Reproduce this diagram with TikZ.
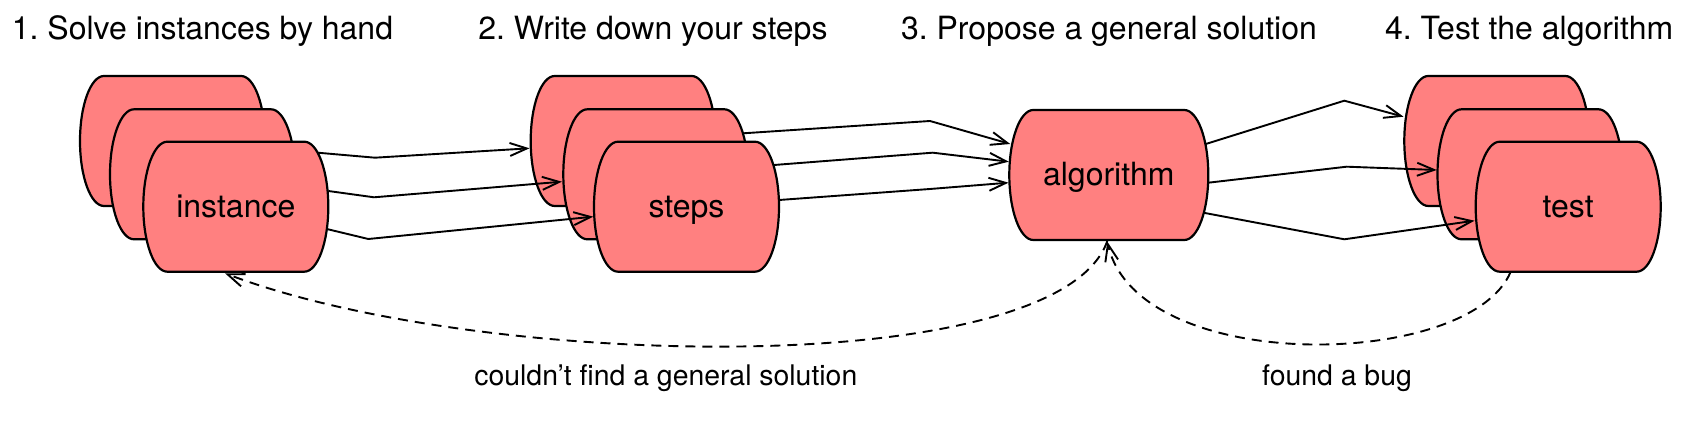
\documentclass[tikz,border=0pt]{standalone}
\usepackage{fontspec}
\setmainfont{TeX Gyre Heros}
\usetikzlibrary{arrows.meta,calc}
\definecolor{barrelfill}{RGB}{255,128,128}
\frenchspacing
\tikzset{
  bbox/.style={inner sep=0pt, outer sep=0pt, minimum height=65pt, minimum width=92.5pt, draw=none},
  bshape/.style={fill=barrelfill, draw=black, line width=1.1pt},
  btext/.style={font=\fontsize{16}{19}\selectfont, inner sep=0pt, anchor=base},
  title/.style={font=\fontsize{16}{19}\selectfont, anchor=base west, inner sep=0pt},
  conn/.style={line width=0.95pt, -{Straight Barb[length=8.5pt,width=6.5pt]}},
  backconn/.style={conn, dash pattern=on 5pt off 3.5pt},
  lbl/.style={font=\fontsize{14.2}{17}\selectfont, anchor=base west, inner sep=0pt},
}
\newcommand\barrelnode[4][92.5pt]{%
  \node[bbox, minimum width=#1] (#2) at (#3) {};
  \filldraw[bshape] ([xshift=12pt]#2.north west) -- ([xshift=-12pt]#2.north east)
     arc[start angle=90, end angle=-90, x radius=12pt, y radius=32.5pt]
     -- ([xshift=12pt]#2.south west)
     arc[start angle=270, end angle=90, x radius=12pt, y radius=32.5pt] -- cycle;
  \node[btext] (#2t) at ($(#2.center)+(0,10.6)$) {#4};
}
\begin{document}
\begin{tikzpicture}[x=0.5pt, y=-0.5pt]
\useasboundingbox (0,0) rectangle (1686,426);

% titles
\node[title] (t1) at (11.5,39.3) {1. Solve instances by hand};
\node[title] (t2) at (478,39.3) {2. Write down your steps};
\node[title] (t3) at (900.6,39.3) {3. Propose a general solution};
\node[title] (t4) at (1384.7,39.3) {4. Test the algorithm};

% instance stack
\barrelnode{inst1}{172.5,141}{}
\barrelnode{inst2}{202.5,174.3}{}
\barrelnode{inst3}{235.8,206.7}{instance}
% steps stack
\barrelnode{steps1}{623.2,141}{}
\barrelnode{steps2}{655.8,174.3}{}
\barrelnode{steps3}{686.5,206.7}{steps}
% algorithm
\barrelnode[99.5pt]{alg}{1108.8,175}{algorithm}
% test stack
\barrelnode{test1}{1496.8,141}{}
\barrelnode{test2}{1530,174.3}{}
\barrelnode{test3}{1568.2,206.7}{test}

% instance -> steps
\draw[conn] ($(inst3)+(81.8,-54)$) -- (375,157.7) -- ($(steps1.west)+(-1.2,7.3)$);
\draw[conn] ($(inst3)+(92.5,-15.7)$) -- (374,197.3) -- ($(steps2.west)+(-1.4,7.4)$);
\draw[conn] ($(inst3)+(91,22.3)$) -- (368.3,239) -- ($(steps3.west)+(-0.7,10)$);

% steps -> algorithm
\draw[conn] ($(steps2)+(87.5,-41)$) -- (930,121) -- ($(alg.west)+(1,-31)$);
\draw[conn] ($(steps3)+(87.5,-41.7)$) -- (932.7,152.7) -- ($(alg.west)+(-0.5,-13.3)$);
\draw[conn] ($(steps3)+(92.6,-6.7)$) -- (930,189) -- ($(alg.west)+(-0.8,7.7)$);

% algorithm -> test
\draw[conn] ($(alg)+(97,-31)$) -- (1344.3,100.7) -- ($(test1.west)+(-0.8,-24.3)$);
\draw[conn] ($(alg)+(99.5,7.7)$) -- (1346.7,166.7) -- ($(test2.west)+(-0.8,-4.3)$);
\draw[conn] ($(alg)+(94.5,37.7)$) -- (1344.3,239.3) -- ($(test3.west)+(-1.2,14)$);

% feedback arcs
\draw[backconn] ($(alg.south)+(-1.5,1)$) .. controls (1058,382) and (480,370) .. ($(inst3.south)+(-10.8,1.6)$);
\draw[backconn] ($(test3.south)+(-57.5,0)$) .. controls (1470,370) and (1138,376) .. ($(alg.south)+(-1.5,1.7)$);

% labels
\node[lbl] (l1) at (474,386) {couldn’t find a general solution};
\node[lbl] (l2) at (1261.7,386) {found a bug};
\end{tikzpicture}
\end{document}
